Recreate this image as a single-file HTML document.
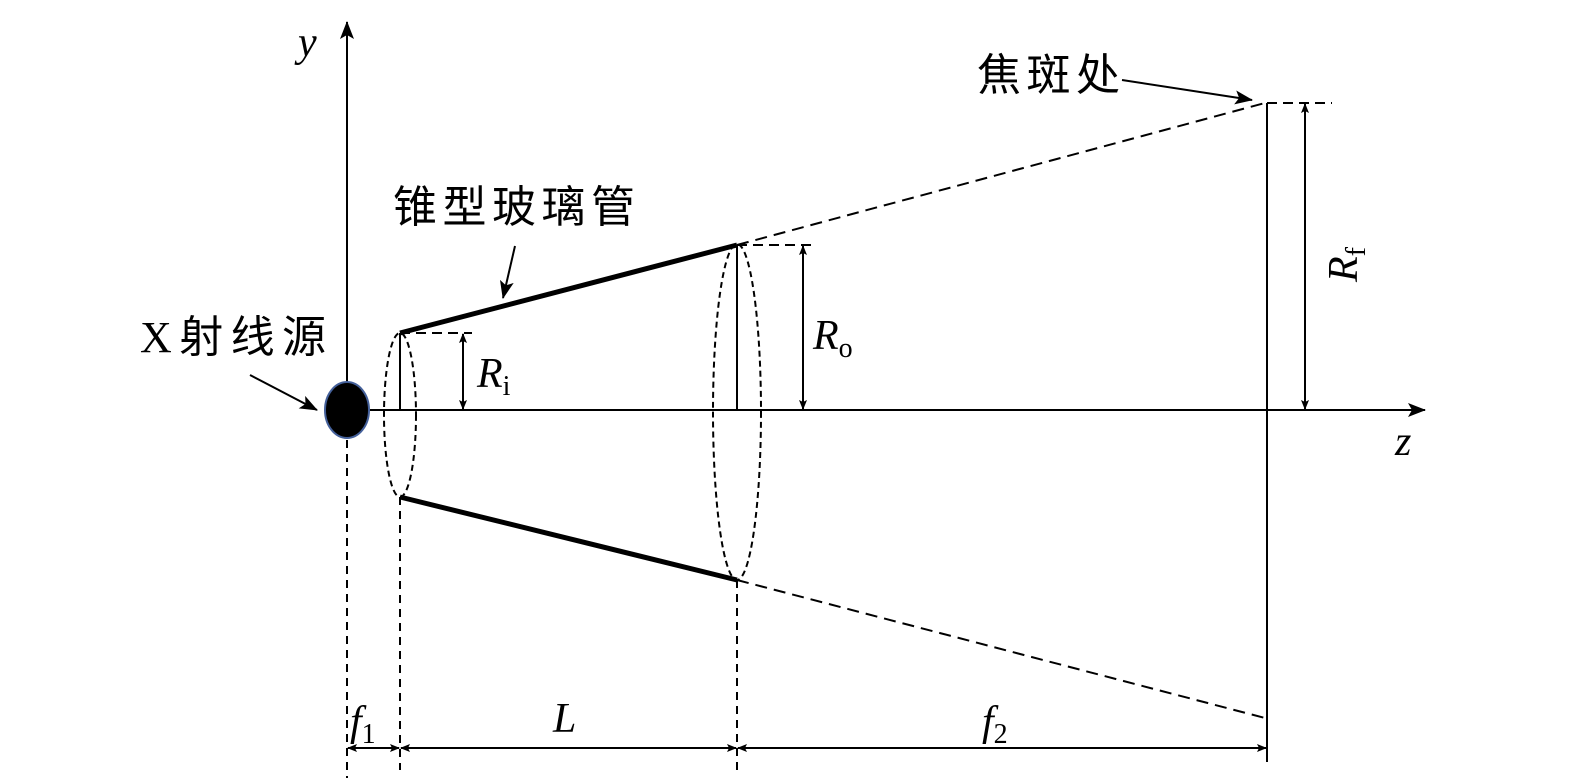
<!DOCTYPE html>
<html><head><meta charset="utf-8"><style>
html,body{margin:0;padding:0;background:#fff;}
svg{display:block;}
.m{font-family:"Liberation Serif",serif;font-style:italic;}
.c{font-family:"Liberation Serif","Noto Sans CJK SC",sans-serif;}
</style></head><body>
<svg width="1575" height="778" viewBox="0 0 1575 778" xmlns="http://www.w3.org/2000/svg">
<defs>
<marker id="a" markerWidth="10" markerHeight="10" refX="9" refY="5" orient="auto" markerUnits="userSpaceOnUse" viewBox="0 0 10 10">
<path d="M0,1 L10,5 L0,9 L2,5 z" fill="#000"/></marker>
<marker id="b" markerWidth="18" markerHeight="14" refX="17" refY="7" orient="auto" markerUnits="userSpaceOnUse" viewBox="0 0 18 14">
<path d="M0,0 L18,7 L0,14 L4,7 z" fill="#000"/></marker>
</defs>
<g stroke="#000" fill="none" stroke-width="2">
<line x1="347" y1="410" x2="347" y2="22" marker-end="url(#b)"/>
<line x1="370" y1="410" x2="1425" y2="410" marker-end="url(#b)"/>
<line x1="347" y1="440" x2="347" y2="778" stroke-dasharray="8,6"/>
<line x1="400" y1="497" x2="400" y2="770" stroke-dasharray="8,6"/>
<line x1="737" y1="580" x2="737" y2="770" stroke-dasharray="8,6"/>
<line x1="400" y1="333" x2="400" y2="410"/>
<line x1="737" y1="245" x2="737" y2="410"/>
<line x1="400" y1="333" x2="737" y2="245" stroke-width="5"/>
<line x1="400" y1="497" x2="737" y2="580" stroke-width="5"/>
<ellipse cx="400" cy="415" rx="16" ry="82" stroke-dasharray="6,4"/>
<ellipse cx="737" cy="412" rx="24" ry="168" stroke-dasharray="6,4"/>
<line x1="737" y1="245" x2="1265" y2="103" stroke-dasharray="12,7"/>
<line x1="737" y1="580" x2="1265" y2="718" stroke-dasharray="12,7"/>
<line x1="1267" y1="103" x2="1267" y2="762"/>
<line x1="1267" y1="103" x2="1332" y2="103" stroke-dasharray="10,6"/>
<line x1="737" y1="245" x2="812" y2="245" stroke-dasharray="10,6"/>
<line x1="400" y1="333" x2="472" y2="333" stroke-dasharray="10,6"/>
<line x1="1305" y1="256" x2="1305" y2="104" marker-end="url(#a)"/>
<line x1="1305" y1="256" x2="1305" y2="409" marker-end="url(#a)"/>
<line x1="803" y1="327" x2="803" y2="246" marker-end="url(#a)"/>
<line x1="803" y1="327" x2="803" y2="409" marker-end="url(#a)"/>
<line x1="463" y1="370" x2="463" y2="334" marker-end="url(#a)"/>
<line x1="463" y1="370" x2="463" y2="409" marker-end="url(#a)"/>
<line x1="373" y1="748" x2="348" y2="748" marker-end="url(#a)"/>
<line x1="373" y1="748" x2="399" y2="748" marker-end="url(#a)"/>
<line x1="568" y1="748" x2="401" y2="748" marker-end="url(#a)"/>
<line x1="568" y1="748" x2="736" y2="748" marker-end="url(#a)"/>
<line x1="1000" y1="748" x2="738" y2="748" marker-end="url(#a)"/>
<line x1="1000" y1="748" x2="1266" y2="748" marker-end="url(#a)"/>
<line x1="1122" y1="80" x2="1252" y2="100" marker-end="url(#b)"/>
<line x1="515" y1="246" x2="503" y2="298" marker-end="url(#b)"/>
<line x1="250" y1="375" x2="317" y2="410" marker-end="url(#b)"/>
</g>
<ellipse cx="347" cy="410" rx="22" ry="28" fill="#000" stroke="#44609a" stroke-width="2"/>
<g font-size="42" fill="#000">
<text class="m" x="298" y="56">y</text>
<text class="m" x="1395" y="455">z</text>
<text class="c" x="977" y="90" font-size="44" textLength="143">焦斑处</text>
<text class="c" x="393" y="222" font-size="44" textLength="242">锥型玻璃管</text>
<text class="c" x="140" y="352" font-size="44" textLength="186">X射线源</text>
<text class="m" x="477" y="387">R<tspan font-style="normal" font-size="28" dy="8">i</tspan></text>
<text class="m" x="813" y="349">R<tspan font-style="normal" font-size="28" dy="8">o</tspan></text>
<g transform="translate(1357,282) rotate(-90)"><text class="m" x="0" y="0">R<tspan font-style="normal" font-size="28" dy="8">f</tspan></text></g>
<text class="m" x="350" y="735">f<tspan font-style="normal" font-size="28" dy="8">1</tspan></text>
<text class="m" x="553" y="732">L</text>
<text class="m" x="982" y="735">f<tspan font-style="normal" font-size="28" dy="8">2</tspan></text>
</g>
</svg>
</body></html>
